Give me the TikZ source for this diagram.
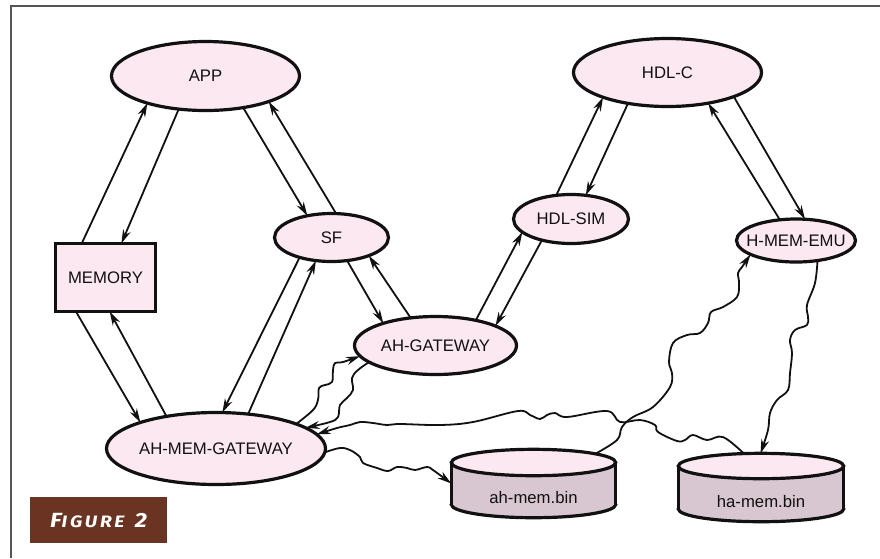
\documentclass[tikz,border=0pt]{standalone}
\usepackage{fontspec}
\setmainfont{Liberation Sans}
\newfontfamily\figfont{Fira Sans}
\usetikzlibrary{arrows.meta,shapes.geometric}

\definecolor{nodepink}{HTML}{FCE8F1}
\definecolor{drumside}{HTML}{D8C7D1}
\definecolor{figbrown}{HTML}{6B3321}
\definecolor{framegrey}{HTML}{555555}
\definecolor{ink}{HTML}{111111}

\newcommand\lblfont{\fontsize{16.7}{19}\selectfont}
\newcommand\zw[1]{\makebox[0pt]{#1}}

\tikzset{
  proc/.style={ellipse, draw=ink, line width=3.2pt, fill=nodepink,
    inner sep=0pt, outer sep=0pt, font=\lblfont, text=ink},
  memrect/.style={rectangle, draw=ink, line width=3.2pt, fill=nodepink,
    inner sep=0pt, outer sep=0pt, font=\lblfont, text=ink},
  drumcap/.style={ellipse, draw=ink, line width=3.2pt, fill=nodepink,
    inner sep=0pt, outer sep=0pt},
  drumline/.style={draw=ink, line width=3.2pt},
  drumtext/.style={rectangle, inner sep=0pt, outer sep=0pt, font=\lblfont,
    text=ink, text height=51pt, text depth=12pt},
  link/.style={draw=ink, line width=1.8pt, -{Stealth[length=14pt,width=8pt]}},
  wavy/.style={link, line join=round},
}

\begin{document}
\begin{tikzpicture}[x=1pt, y=-1pt]
\useasboundingbox (0,0) rectangle (880,558);

% page frame (top and left rules)
\draw[framegrey, line width=2pt] (10.5,558) -- (10.5,5.5) -- (880,5.5);

% process nodes
\node[proc, minimum width=188pt, minimum height=69pt] (app) at (205.5,76) {\zw{APP}};
\node[memrect, minimum width=100pt, minimum height=68pt] (mem) at (105.5,277.5) {\zw{MEMORY}};
\node[proc, minimum width=114pt, minimum height=48pt] (sf) at (331.5,237.5) {\zw{SF}};
\node[proc, minimum width=188pt, minimum height=68pt] (hdlc) at (667.5,72.5) {\zw{HDL-C}};
\node[proc, minimum width=115pt, minimum height=49pt] (hdlsim) at (571,219) {\zw{HDL-SIM}};
\node[proc, minimum width=119pt, minimum height=43pt] (hmem) at (796,240.5) {\zw{H-MEM-EMU}};
\node[proc, minimum width=162pt, minimum height=58pt] (ahg) at (435.5,345.5) {\zw{AH-GATEWAY}};
\node[proc, minimum width=219pt, minimum height=72pt] (amg) at (216,448.5) {\zw{AH-MEM-GATEWAY}};

% ah-mem.bin drum
\draw[drumline, fill=drumside] (533.5,504.5) ellipse [x radius=82.2pt, y radius=13.2pt];
\fill[drumside] (451.3,462.5) rectangle (615.7,504.5);
\draw[drumline] (451.3,462.5) -- (451.3,504.5) (615.7,462.5) -- (615.7,504.5);
\node[drumcap, minimum width=164.4pt, minimum height=26.4pt] (ahtop) at (533.5,462.5) {};
\node[drumtext, minimum width=164.4pt] (ahbin) at (533.5,483.5) {ah-mem.bin};

% ha-mem.bin drum
\draw[drumline, fill=drumside] (761,509) ellipse [x radius=82.7pt, y radius=12.7pt];
\fill[drumside] (678.3,466) rectangle (843.7,509);
\draw[drumline] (678.3,466) -- (678.3,509) (843.7,466) -- (843.7,509);
\node[drumcap, minimum width=165.4pt, minimum height=25.4pt] (hatop) at (761,466) {};
\node[drumtext, minimum width=165.4pt] (habin) at (761,487.5) {ha-mem.bin};

% straight links
\draw[link] (mem.125) -- (app.205);
\draw[link] (app.231) -- (mem.65);
\draw[link] (app.320) -- (sf.138);
\draw[link] (sf.79) -- (app.338);
\draw[link] (sf.212) -- (amg.80);
\draw[link] (amg.47) -- (sf.236);
\draw[link] (sf.304) -- (ahg.157);
\draw[link] (ahg.132) -- (sf.334);
\draw[link] (mem.229) -- (amg.161);
\draw[link] (amg.147) -- (mem.277);
\draw[link] (ahg.32) -- (hdlsim.195);
\draw[link] (hdlsim.216) -- (ahg.18);
\draw[link] (hdlsim.122) -- (hdlc.201);
\draw[link] (hdlc.218) -- (hdlsim.58);
\draw[link] (hmem.128) -- (hdlc.323);
\draw[link] (hdlc.340) -- (hmem.67);

% wavy links
\draw[wavy] plot[smooth, tension=0.6] coordinates {(amg.17) (313,410) (318,400) (319,388)
  (325,385) (332,382) (333,370) (335,363) (343,362) (ahg.188)};
\draw[wavy] plot[smooth, tension=0.6] coordinates {(ahg.194) (358,370) (352,378) (353,390)
  (347,398) (340,405) (338,417) (330,422) (amg.13)};
\draw[wavy] plot[smooth, tension=0.6] coordinates {(ahtop.8) (617,440) (622,427) (633,417)
  (653,407) (670,387) (672,373) (669,362) (673,343) (687,335) (700,333) (708,323)
  (711,312) (723,307) (737,297) (739,283) (738,273) (742,267) (hmem.197)};
\draw[wavy] plot[smooth, tension=0.6] coordinates {(hmem.317) (815,283) (807,305) (808,317)
  (807,325) (795,330) (790,340) (792,353) (790,373) (788,390) (777,400) (770,413)
  (768,430) (hatop.92)};
\draw[wavy] plot[smooth, tension=0.6] coordinates {(hatop.144) (723,437) (707,440) (693,435)
  (685,440) (677,441) (658,432) (655,425) (640,420) (620,422) (607,411) (567,417)
  (555,413) (547,415) (540,419) (530,415) (518,411) (473,422) (440,425) (400,424)
  (387,425) (373,423) (360,422) (350,425) (337,428) (amg.8)};
\draw[wavy] plot[smooth, tension=0.6] coordinates {(amg.358) (340,448) (350,450) (360,457)
  (363,463) (377,468) (388,471) (397,467) (407,468) (415,470) (427,467) (433,470)
  (ahbin.west)};

% caption tag
\node[fill=figbrown, minimum width=137pt, minimum height=46pt, inner sep=0pt,
  anchor=north west, text=white] (fig) at (30,497)
  {\scalebox{1.17}[1]{\figfont\bfseries\itshape\addfontfeature{LetterSpace=14}%
   {\fontsize{20.5}{21}\selectfont F}{\fontsize{16.5}{17}\selectfont IGURE}\hspace{9pt}{\fontsize{20.5}{21}\selectfont 2}}};
\end{tikzpicture}
\end{document}
